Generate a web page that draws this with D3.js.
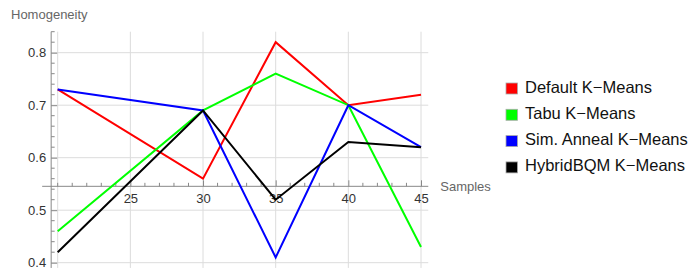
<!DOCTYPE html>
<html lang="en">
<head>
<meta charset="UTF-8">
<title>Homogeneity</title>
<script src="https://cdn.jsdelivr.net/npm/d3@7"></script>
<style>
  body { margin: 0; background: #fff; }
  svg text { font-family: "Liberation Sans", Arial, sans-serif; }
</style>
</head>
<body>
<div id="box"></div>
<script>
// data
var samples = [20, 30, 35, 40, 45];
var seriesNames = ["Default K\u2212Means", "Tabu K\u2212Means", "Sim. Anneal K\u2212Means", "HybridBQM K\u2212Means"];
var defaultKM = [0.73, 0.56, 0.82, 0.70, 0.72];
var tabuKM = [0.46, 0.69, 0.76, 0.70, 0.43];
var annealKM = [0.73, 0.69, 0.41, 0.70, 0.62];
var hybridKM = [0.42, 0.69, 0.52, 0.63, 0.62];
var xTicks = [25, 30, 35, 40, 45];
var yTicks = [0.4, 0.5, 0.6, 0.7, 0.8];
var colors = ["#ff0000", "#00ff00", "#0000ff", "#000000"];

var width = 699, height = 273;

var x = d3.scaleLinear().domain([20, 45]).range([57.7, 421]);
var y = d3.scaleLinear().domain([0.4, 0.8]).range([262.7, 52.7]);
var xMin = 19.55, xMax = 45.5, yMin = 0.39, yMax = 0.84, yCross = 0.5455;

var svg = d3.select("#box").append("svg")
    .attr("width", width)
    .attr("height", height);

// grid
var grid = svg.append("g").attr("stroke", "#dcdcdc").attr("stroke-width", 1);
grid.selectAll(".gx").data([20].concat(xTicks)).enter().append("line")
    .attr("x1", d => x(d)).attr("x2", d => x(d))
    .attr("y1", y(yMax)).attr("y2", y(yMin));
grid.selectAll(".gy").data(yTicks).enter().append("line")
    .attr("x1", x(xMin)).attr("x2", x(xMax))
    .attr("y1", d => y(d)).attr("y2", d => y(d));

// x axis crossing at yCross
var xMinor = d3.range(20, 46).filter(d => d % 5 != 0);
var xAxis = d3.axisBottom(x).tickValues(xTicks).tickSizeInner(-6).tickSizeOuter(0).tickPadding(7).tickFormat(d3.format("d"));
var gx = svg.append("g").attr("transform", "translate(0," + y(yCross) + ")").call(xAxis);
gx.select(".domain").attr("d", "M" + (x(xMin) - 9) + ",0H" + x(xMax));
gx.selectAll(".minor").data(xMinor.concat([20])).enter().append("line")
    .attr("class", "minor")
    .attr("x1", d => x(d)).attr("x2", d => x(d))
    .attr("y1", 0).attr("y2", -3.5)
    .attr("stroke", "#888");

// y axis
var yMinor = d3.range(0.40, 0.845, 0.02).map(d => +d.toFixed(2)).filter(d => Math.round(d * 100) % 10 != 0);
var yAxis = d3.axisLeft(y).tickValues(yTicks).tickSizeInner(-6).tickSizeOuter(0).tickPadding(5).tickFormat(d3.format(".1f"));
var gy = svg.append("g").attr("transform", "translate(" + x(xMin) + ",0)").call(yAxis);
gy.select(".domain").attr("d", "M0," + y(yMax) + "V" + y(yMin));
gy.selectAll(".minor").data(yMinor).enter().append("line")
    .attr("class", "minor")
    .attr("x1", 0).attr("x2", 3.5)
    .attr("y1", d => y(d)).attr("y2", d => y(d))
    .attr("stroke", "#888");

svg.selectAll(".domain, .tick line").attr("stroke", "#888");
svg.selectAll(".tick text").attr("fill", "#333").style("font-size", "13px");

// axis labels
svg.append("text").attr("x", 11).attr("y", 19).attr("fill", "#666")
    .style("font-size", "13px").text("Homogeneity");
svg.append("text").attr("x", x(xMax) + 12).attr("y", y(yCross) + 5).attr("fill", "#666")
    .style("font-size", "13px").text("Samples");

// lines
var allSeries = [defaultKM, tabuKM, annealKM, hybridKM];
var line = d3.line().x((d, i) => x(samples[i])).y(d => y(d));
svg.append("g").selectAll("path").data(allSeries).enter().append("path")
    .attr("d", d => line(d))
    .attr("fill", "none")
    .attr("stroke", (d, i) => colors[i])
    .attr("stroke-width", 2)
    .attr("stroke-linejoin", "miter");

// legend
var legend = svg.append("g").attr("transform", "translate(506,83)");
var items = legend.selectAll("g").data(seriesNames).enter().append("g")
    .attr("transform", (d, i) => "translate(0," + i * 26.3 + ")");
items.append("rect").attr("width", 11.5).attr("height", 11)
    .attr("fill", (d, i) => colors[i])
    .attr("stroke", "#aaa").attr("stroke-width", 0.8);
items.append("text").attr("x", 19).attr("y", 9.5)
    .attr("fill", "#111").style("font-size", "16.5px")
    .text(d => d);
</script>
</body>
</html>
